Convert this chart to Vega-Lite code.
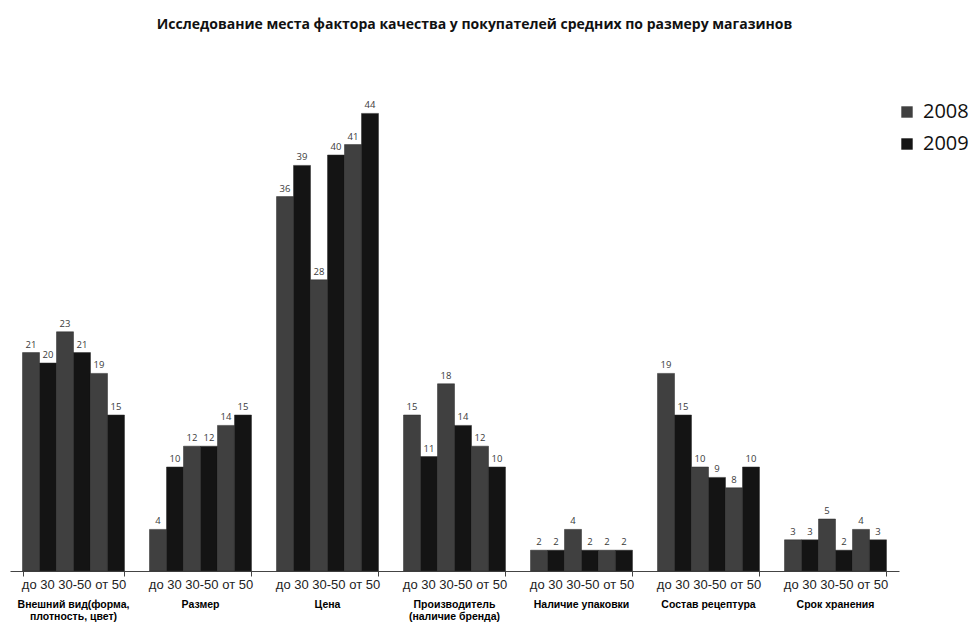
{
  "$schema": "https://vega.github.io/schema/vega-lite/v6.json",
  "width": 889,
  "height": 468,
  "autosize": "none",
  "padding": {"left": 10, "top": 103, "right": 73, "bottom": 52},
  "background": "white",
  "view": {"stroke": null},
  "title": {
    "text": "Исследование места фактора качества у  покупателей средних по размеру магазинов",
    "font": "Open Sans",
    "fontSize": 14,
    "fontWeight": "bold",
    "color": "#111",
    "anchor": "middle",
    "dx": 20,
    "offset": 68
  },
  "data": {
    "values": [
      {"cat": "Внешний вид(форма,|плотность, цвет)", "size": "до 30", "year": "2008", "grp": "до 30 2008", "value": 21},
      {"cat": "Внешний вид(форма,|плотность, цвет)", "size": "до 30", "year": "2009", "grp": "до 30 2009", "value": 20},
      {"cat": "Внешний вид(форма,|плотность, цвет)", "size": "30-50", "year": "2008", "grp": "30-50 2008", "value": 23},
      {"cat": "Внешний вид(форма,|плотность, цвет)", "size": "30-50", "year": "2009", "grp": "30-50 2009", "value": 21},
      {"cat": "Внешний вид(форма,|плотность, цвет)", "size": "от 50", "year": "2008", "grp": "от 50 2008", "value": 19},
      {"cat": "Внешний вид(форма,|плотность, цвет)", "size": "от 50", "year": "2009", "grp": "от 50 2009", "value": 15},
      {"cat": "Размер", "size": "до 30", "year": "2008", "grp": "до 30 2008", "value": 4},
      {"cat": "Размер", "size": "до 30", "year": "2009", "grp": "до 30 2009", "value": 10},
      {"cat": "Размер", "size": "30-50", "year": "2008", "grp": "30-50 2008", "value": 12},
      {"cat": "Размер", "size": "30-50", "year": "2009", "grp": "30-50 2009", "value": 12},
      {"cat": "Размер", "size": "от 50", "year": "2008", "grp": "от 50 2008", "value": 14},
      {"cat": "Размер", "size": "от 50", "year": "2009", "grp": "от 50 2009", "value": 15},
      {"cat": "Цена", "size": "до 30", "year": "2008", "grp": "до 30 2008", "value": 36},
      {"cat": "Цена", "size": "до 30", "year": "2009", "grp": "до 30 2009", "value": 39},
      {"cat": "Цена", "size": "30-50", "year": "2008", "grp": "30-50 2008", "value": 28},
      {"cat": "Цена", "size": "30-50", "year": "2009", "grp": "30-50 2009", "value": 40},
      {"cat": "Цена", "size": "от 50", "year": "2008", "grp": "от 50 2008", "value": 41},
      {"cat": "Цена", "size": "от 50", "year": "2009", "grp": "от 50 2009", "value": 44},
      {"cat": "Производитель|(наличие бренда)", "size": "до 30", "year": "2008", "grp": "до 30 2008", "value": 15},
      {"cat": "Производитель|(наличие бренда)", "size": "до 30", "year": "2009", "grp": "до 30 2009", "value": 11},
      {"cat": "Производитель|(наличие бренда)", "size": "30-50", "year": "2008", "grp": "30-50 2008", "value": 18},
      {"cat": "Производитель|(наличие бренда)", "size": "30-50", "year": "2009", "grp": "30-50 2009", "value": 14},
      {"cat": "Производитель|(наличие бренда)", "size": "от 50", "year": "2008", "grp": "от 50 2008", "value": 12},
      {"cat": "Производитель|(наличие бренда)", "size": "от 50", "year": "2009", "grp": "от 50 2009", "value": 10},
      {"cat": "Наличие упаковки", "size": "до 30", "year": "2008", "grp": "до 30 2008", "value": 2},
      {"cat": "Наличие упаковки", "size": "до 30", "year": "2009", "grp": "до 30 2009", "value": 2},
      {"cat": "Наличие упаковки", "size": "30-50", "year": "2008", "grp": "30-50 2008", "value": 4},
      {"cat": "Наличие упаковки", "size": "30-50", "year": "2009", "grp": "30-50 2009", "value": 2},
      {"cat": "Наличие упаковки", "size": "от 50", "year": "2008", "grp": "от 50 2008", "value": 2},
      {"cat": "Наличие упаковки", "size": "от 50", "year": "2009", "grp": "от 50 2009", "value": 2},
      {"cat": "Состав рецептура", "size": "до 30", "year": "2008", "grp": "до 30 2008", "value": 19},
      {"cat": "Состав рецептура", "size": "до 30", "year": "2009", "grp": "до 30 2009", "value": 15},
      {"cat": "Состав рецептура", "size": "30-50", "year": "2008", "grp": "30-50 2008", "value": 10},
      {"cat": "Состав рецептура", "size": "30-50", "year": "2009", "grp": "30-50 2009", "value": 9},
      {"cat": "Состав рецептура", "size": "от 50", "year": "2008", "grp": "от 50 2008", "value": 8},
      {"cat": "Состав рецептура", "size": "от 50", "year": "2009", "grp": "от 50 2009", "value": 10},
      {"cat": "Срок хранения", "size": "до 30", "year": "2008", "grp": "до 30 2008", "value": 3},
      {"cat": "Срок хранения", "size": "до 30", "year": "2009", "grp": "до 30 2009", "value": 3},
      {"cat": "Срок хранения", "size": "30-50", "year": "2008", "grp": "30-50 2008", "value": 5},
      {"cat": "Срок хранения", "size": "30-50", "year": "2009", "grp": "30-50 2009", "value": 2},
      {"cat": "Срок хранения", "size": "от 50", "year": "2008", "grp": "от 50 2008", "value": 4},
      {"cat": "Срок хранения", "size": "от 50", "year": "2009", "grp": "от 50 2009", "value": 3}
    ]
  },
  "layer": [
    {
      "mark": {"type": "bar", "stroke": "#2a2a2a", "strokeWidth": 0.5},
      "encoding": {
        "x": {
          "field": "cat",
          "type": "nominal",
          "sort": null,
          "scale": {"paddingInner": 0.197, "paddingOuter": 0.0985},
          "axis": {
            "title": null,
            "orient": "bottom",
            "labelExpr": "datum.label ? 'до 30 30-50 от 50' : ''",
            "labelFont": "Liberation Sans",
            "labelFontSize": 13,
            "labelColor": "#222",
            "labelPadding": 2,
            "labelAngle": 0,
            "labelOverlap": false,
            "tickBand": "extent",
            "ticks": true,
            "tickSize": 5,
            "tickColor": "#444",
            "domainColor": "#444",
            "domainWidth": 1
          }
        },
        "xOffset": {"field": "grp", "type": "nominal", "sort": null, "scale": {"paddingInner": 0, "paddingOuter": 0}},
        "y": {"field": "value", "type": "quantitative", "scale": {"domain": [0, 45]}, "axis": null},
        "color": {
          "field": "year",
          "type": "nominal",
          "scale": {"domain": ["2008", "2009"], "range": ["#404040", "#141414"]},
          "legend": {
            "title": null,
            "orient": "none",
            "legendX": 887,
            "legendY": -1,
            "symbolType": "square",
            "symbolSize": 130,
            "symbolStrokeWidth": 0,
            "labelFont": "Open Sans",
            "labelFontSize": 20,
            "labelColor": "#111",
            "rowPadding": 12,
            "labelOffset": 6
          }
        }
      }
    },
    {
      "mark": {"type": "text", "dy": -8, "font": "Open Sans", "fontSize": 9.5, "color": "#3a3a3a"},
      "encoding": {
        "x": {
          "field": "cat",
          "type": "nominal",
          "sort": null,
          "axis": {
            "title": null,
            "orient": "bottom",
            "offset": 28,
            "domain": false,
            "ticks": false,
            "labelExpr": "split(datum.label, '|')",
            "labelFont": "Liberation Sans",
            "labelFontWeight": "bold",
            "labelFontSize": 10.5,
            "labelLineHeight": 12,
            "labelColor": "#000",
            "labelAngle": 0,
            "labelPadding": 0,
            "labelOverlap": false
          }
        },
        "xOffset": {"field": "grp", "type": "nominal", "sort": null},
        "y": {"field": "value", "type": "quantitative"},
        "text": {"field": "value", "type": "quantitative"}
      }
    }
  ],
  "resolve": {"axis": {"x": "independent"}}
}
